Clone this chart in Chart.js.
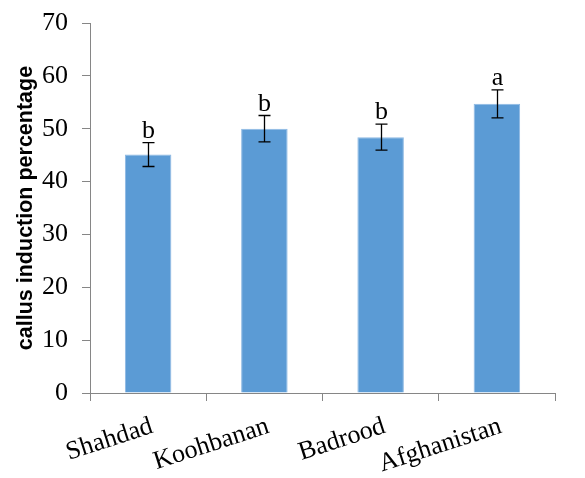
<!DOCTYPE html>
<html>
<head>
<meta charset="utf-8">
<script src="https://cdn.jsdelivr.net/npm/chart.js@4.4.1/dist/chart.umd.min.js"></script>
<style>
  html, body { margin: 0; padding: 0; background: #ffffff; }
  #wrap { width: 585px; height: 478px; }
</style>
</head>
<body>
<div id="wrap"><canvas id="chart" width="585" height="478"></canvas></div>
<script>
// Callus induction per genotype (mean, standard error, significance group)
const categories = ['Shahdad', 'Koohbanan', 'Badrood', 'Afghanistan'];
const means = [45.1, 50.0, 48.4, 54.7];
const errors = [2.25, 2.5, 2.45, 2.65];
const groupLetters = ['b', 'b', 'b', 'a'];
const yMin = 0, yMax = 70, yStep = 10;

const serif = '"Liberation Serif", "Times New Roman", serif';
const axisGray = '#868686';

// Error bars with caps, then the significance letter above each bar
const errorBarPlugin = {
  id: 'errorBars',
  afterDatasetsDraw(chart) {
    const ctx = chart.ctx;
    const y = chart.scales.y;
    const meta = chart.getDatasetMeta(0);
    ctx.save();
    ctx.strokeStyle = '#000000';
    ctx.lineWidth = 1.3;
    ctx.fillStyle = '#000000';
    ctx.font = '26px ' + serif;
    ctx.textAlign = 'center';
    ctx.textBaseline = 'alphabetic';
    meta.data.forEach((bar, i) => {
      const x = Math.round(bar.x) + 0.5;
      const top = y.getPixelForValue(means[i] + errors[i]);
      const bot = y.getPixelForValue(means[i] - errors[i]);
      const cap = 6;
      ctx.beginPath();
      ctx.moveTo(x, top); ctx.lineTo(x, bot);
      ctx.moveTo(x - cap, top); ctx.lineTo(x + cap, top);
      ctx.moveTo(x - cap, bot); ctx.lineTo(x + cap, bot);
      ctx.stroke();
      ctx.fillText(groupLetters[i], x, top - 5);
    });
    ctx.restore();
  }
};

new Chart(document.getElementById('chart'), {
  type: 'bar',
  data: {
    labels: categories,
    datasets: [{
      data: means,
      backgroundColor: '#5b9bd5',
      borderColor: '#8db9e3',
      borderWidth: 1,
      categoryPercentage: 1.0,
      barPercentage: 0.4
    }]
  },
  options: {
    responsive: false,
    animation: false,
    devicePixelRatio: 1,
    layout: { padding: { top: 23, right: 30, bottom: 0, left: 9 } },
    plugins: {
      legend: { display: false },
      tooltip: { enabled: false }
    },
    scales: {
      x: {
        offset: true,
        border: { color: axisGray, width: 1 },
        grid: {
          offset: true,
          drawOnChartArea: false,
          drawTicks: true,
          tickLength: 8,
          color: axisGray
        },
        ticks: {
          color: '#000000',
          font: { family: serif, size: 26 },
          minRotation: 18,
          maxRotation: 18,
          padding: 10,
          labelOffset: 4,
          autoSkip: false
        },
        afterFit(scale) { scale.height = 85; }
      },
      y: {
        min: yMin,
        max: yMax,
        border: { color: axisGray, width: 1 },
        grid: {
          drawOnChartArea: false,
          drawTicks: true,
          tickLength: 8,
          color: axisGray
        },
        ticks: {
          stepSize: yStep,
          color: '#000000',
          font: { family: serif, size: 26 },
          padding: 14
        },
        title: {
          display: true,
          text: 'callus induction percentage',
          color: '#000000',
          font: { family: '"Liberation Sans", Arial, sans-serif', size: 21.5, weight: 'bold' },
          padding: { top: 4, bottom: 4 }
        },
        afterFit(scale) {
          scale.width = 81;
          // let the layout padding alone set the plot's top edge
          scale.paddingTop = 0;
          scale.paddingBottom = 0;
        }
      }
    }
  },
  plugins: [errorBarPlugin]
});
</script>
</body>
</html>
